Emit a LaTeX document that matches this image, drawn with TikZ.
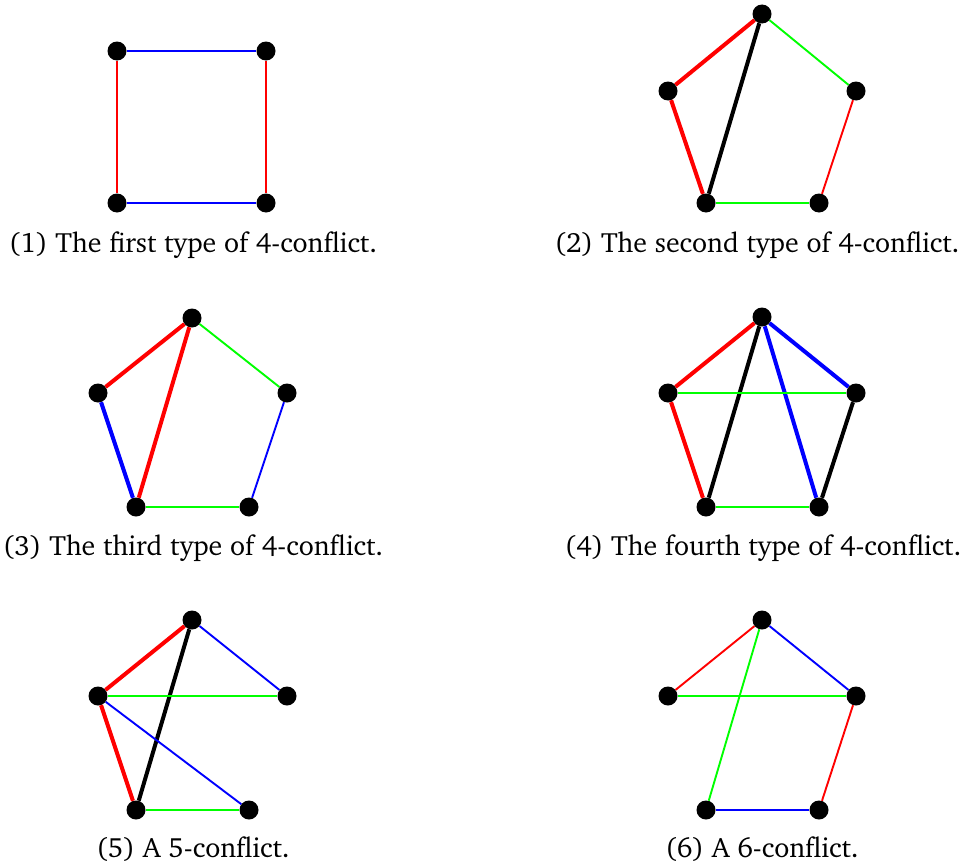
\documentclass[tikz,border=0pt]{standalone}
\usepackage[T1]{fontenc}
\definecolor{gr}{RGB}{0,255,0}
\definecolor{rd}{RGB}{255,0,0}
\definecolor{bl}{RGB}{0,0,255}
\tikzset{
  dot/.style={circle, fill=black, inner sep=0pt, minimum size=19bp},
  thk/.style={line width=4bp},
  thn/.style={line width=1.9bp},
  captxt/.style={anchor=base, font=\fontencoding{T1}\fontfamily{bch}\fontsize{28}{32}\selectfont, inner sep=0pt}
}
\begin{document}
\begin{tikzpicture}[x=1bp,y=-1bp]
\useasboundingbox (0,0) rectangle (966,863);
% panel 1
\node[dot] (a1) at (117,51) {};
\node[dot] (a2) at (266,51) {};
\node[dot] (a3) at (117,203) {};
\node[dot] (a4) at (266,203) {};
\draw[thn,bl] (a1) -- (a2);
\draw[thn,bl] (a3) -- (a4);
\draw[thn,rd] (a1) -- (a3);
\draw[thn,rd] (a2) -- (a4);
\node[captxt] (c1) at (193,252) {(1) The first type of 4-conflict.};
% panel 2
\node[dot] (bT) at (762,14) {};
\node[dot] (bL) at (668,91) {};
\node[dot] (bR) at (856,91) {};
\node[dot] (bA) at (706,203) {};
\node[dot] (bB) at (819,203) {};
\draw[thk,rd] (bT) -- (bL);
\draw[thk,rd] (bL) -- (bA);
\draw[thk,black] (bT) -- (bA);
\draw[thn,gr] (bT) -- (bR);
\draw[thn,rd] (bR) -- (bB);
\draw[thn,gr] (bA) -- (bB);
\node[captxt] (c2) at (757,252) {(2) The second type of 4-conflict.};
% panel 3
\node[dot] (cT) at (192,318) {};
\node[dot] (cL) at (98,393) {};
\node[dot] (cR) at (287,393) {};
\node[dot] (cA) at (136,507) {};
\node[dot] (cB) at (249,507) {};
\draw[thk,rd] (cT) -- (cL);
\draw[thk,rd] (cT) -- (cA);
\draw[thk,bl] (cL) -- (cA);
\draw[thn,gr] (cT) -- (cR);
\draw[thn,bl] (cR) -- (cB);
\draw[thn,gr] (cA) -- (cB);
\node[captxt] (c3) at (193,555) {(3) The third type of 4-conflict.};
% panel 4
\node[dot] (dT) at (762,317) {};
\node[dot] (dL) at (668,393) {};
\node[dot] (dR) at (856,393) {};
\node[dot] (dA) at (706,507) {};
\node[dot] (dB) at (819,507) {};
\draw[thk,rd] (dT) -- (dL);
\draw[thk,rd] (dL) -- (dA);
\draw[thk,black] (dT) -- (dA);
\draw[thk,bl] (dT) -- (dR);
\draw[thk,bl] (dT) -- (dB);
\draw[thk,black] (dR) -- (dB);
\draw[thn,gr] (dL) -- (dR);
\draw[thn,gr] (dA) -- (dB);
\node[captxt] (c4) at (763,555) {(4) The fourth type of 4-conflict.};
% panel 5
\node[dot] (eT) at (192,620) {};
\node[dot] (eL) at (98,696) {};
\node[dot] (eR) at (287,696) {};
\node[dot] (eA) at (136,810) {};
\node[dot] (eB) at (249,810) {};
\draw[thk,rd] (eT) -- (eL);
\draw[thk,rd] (eL) -- (eA);
\draw[thk,black] (eT) -- (eA);
\draw[thn,bl] (eT) -- (eR);
\draw[thn,gr] (eL) -- (eR);
\draw[thn,bl] (eL) -- (eB);
\draw[thn,gr] (eA) -- (eB);
\node[captxt] (c5) at (193,857) {(5) A 5-conflict.};
% panel 6
\node[dot] (fT) at (762,620) {};
\node[dot] (fL) at (668,696) {};
\node[dot] (fR) at (856,696) {};
\node[dot] (fA) at (706,810) {};
\node[dot] (fB) at (819,810) {};
\draw[thn,rd] (fT) -- (fL);
\draw[thn,bl] (fT) -- (fR);
\draw[thn,gr] (fL) -- (fR);
\draw[thn,gr] (fT) -- (fA);
\draw[thn,rd] (fR) -- (fB);
\draw[thn,bl] (fA) -- (fB);
\node[captxt] (c6) at (762,857) {(6) A 6-conflict.};
\end{tikzpicture}
\end{document}
